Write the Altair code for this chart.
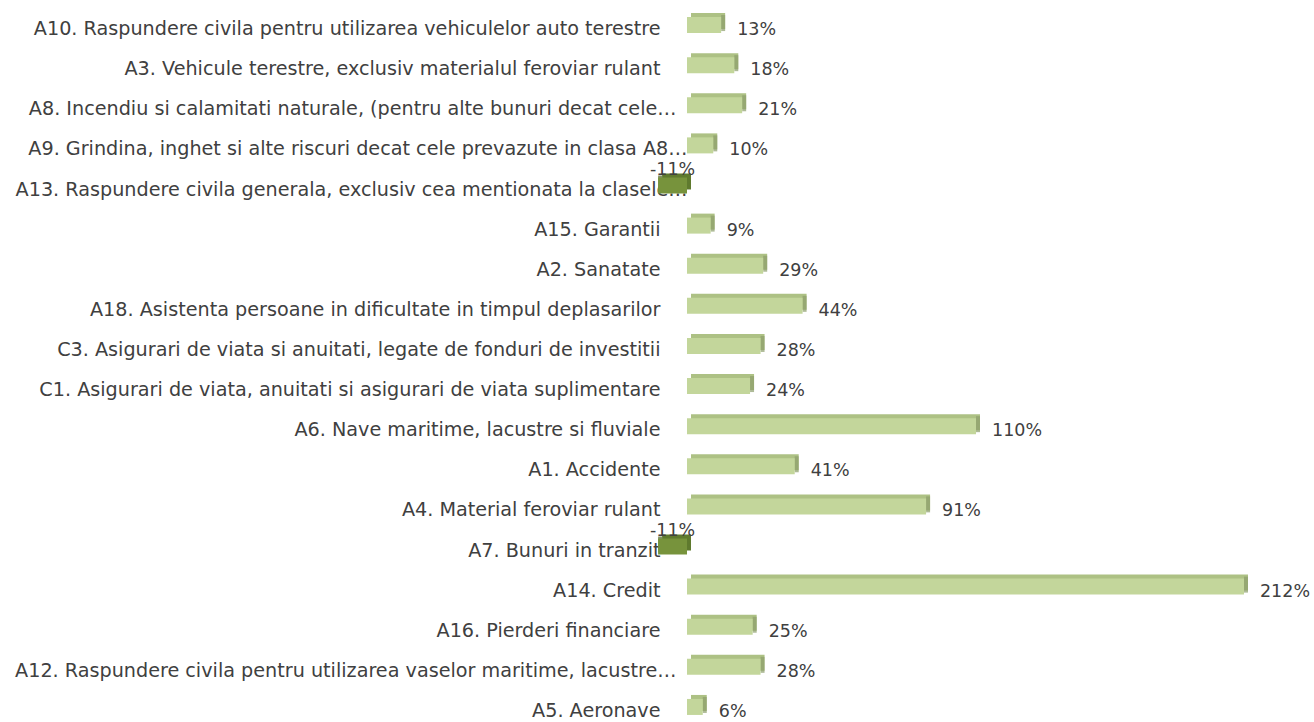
import altair as alt
import pandas as pd

categories = [
    "A10. Raspundere civila pentru utilizarea vehiculelor auto terestre",
    "A3. Vehicule terestre, exclusiv materialul feroviar rulant",
    "A8. Incendiu si calamitati naturale, (pentru alte bunuri decat cele…",
    "A9. Grindina, inghet si alte riscuri decat cele prevazute in clasa A8…",
    "A13. Raspundere civila generala, exclusiv cea mentionata la clasele…",
    "A15. Garantii",
    "A2. Sanatate",
    "A18. Asistenta persoane in dificultate in timpul deplasarilor",
    "C3. Asigurari de viata si anuitati, legate de fonduri de investitii",
    "C1. Asigurari de viata, anuitati si asigurari de viata suplimentare",
    "A6. Nave maritime, lacustre si fluviale",
    "A1. Accidente",
    "A4. Material feroviar rulant",
    "A7. Bunuri in tranzit",
    "A14.  Credit",
    "A16. Pierderi financiare",
    "A12. Raspundere civila pentru utilizarea vaselor maritime, lacustre…",
    "A5. Aeronave",
]
values = [13, 18, 21, 10, -11, 9, 29, 44, 28, 24, 110, 41, 91, -11, 212, 25, 28, 6]

df = pd.DataFrame({"cat": categories, "v": values})
df["label"] = [f"{v}%" for v in values]

FONT = "DejaVu Sans"
FS_AXIS = 19.2
FS_VAL = 17.5
TXT = "#404040"
neg = alt.datum.v < 0

xscale = alt.Scale(domain=[0, 220], nice=False, zero=True)
yenc = alt.Y(
    "cat:N",
    sort=categories,
    title=None,
    scale=alt.Scale(paddingInner=0, paddingOuter=0, range=[0, 722]),
    axis=alt.Axis(
        domain=False, ticks=False, grid=False,
        labelPadding={
            "condition": [
                {"test": "indexof(datum.value, 'A9.') == 0 || indexof(datum.value, 'A13.') == 0", "value": 0},
                {"test": "indexof(datum.value, 'A8.') == 0 || indexof(datum.value, 'A12.') == 0", "value": 11},
            ],
            "value": 27,
        },
        labelLimit=800, labelFont=FONT, labelFontSize=FS_AXIS,
        labelColor=TXT, labelBaseline="alphabetic", labelOffset=10,
    ),
)
xenc = alt.X("v:Q", scale=xscale, axis=None)

base = alt.Chart(df).encode(y=yenc)

top_face = base.mark_bar(size=16, xOffset=4, yOffset=-4).encode(
    x=xenc,
    color=alt.condition(neg, alt.value("#5f7a2e"), alt.value("#adc184")),
)
side_face = base.mark_tick(size=16, thickness=4, xOffset=2, yOffset=-2).encode(
    x=xenc,
    color=alt.condition(neg, alt.value("#4f6228"), alt.value("#8c9d6b")),
)
front = base.mark_bar(size=16).encode(
    x=xenc,
    color=alt.condition(neg, alt.value("#77933c"), alt.value("#c3d69b")),
)

pos_labels = base.transform_filter(alt.datum.v >= 0).mark_text(
    align="left", baseline="alphabetic", dx=16, dy=10,
    font=FONT, fontSize=FS_VAL, color=TXT,
).encode(x=xenc, text="label:N")

neg_labels = base.transform_filter(alt.datum.v < 0).transform_calculate(
    half="datum.v / 2"
).mark_text(
    align="center", baseline="alphabetic", dy=-11,
    font=FONT, fontSize=FS_VAL, color=TXT,
).encode(x=alt.X("half:Q", scale=xscale, axis=None), text="label:N")

chart = alt.layer(top_face, side_face, front, pos_labels, neg_labels).properties(
    width=578,
    height=717,
    background="white",
    autosize=alt.AutoSizeParams(type="none"),
    padding={"left": 687, "right": 49, "top": 5, "bottom": 0},
).configure_view(stroke="transparent", strokeWidth=0)

chart.save("out.html", embed_options={"renderer": "svg", "actions": False})
